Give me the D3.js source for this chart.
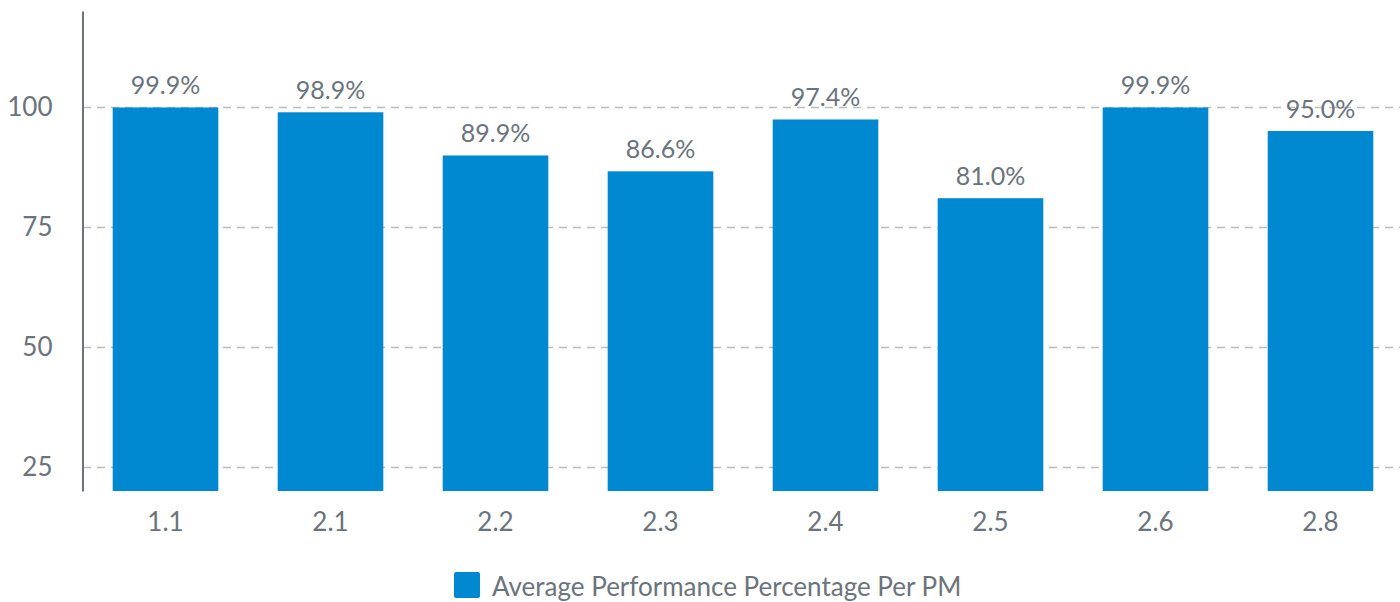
<!DOCTYPE html>
<html>
<head>
<meta charset="utf-8">
<script src="https://cdn.jsdelivr.net/npm/d3@7/dist/d3.min.js"></script>
<style>
  html, body { margin: 0; padding: 0; background: #fff; }
  svg { display: block; font-family: Lato, "Open Sans", sans-serif; }
</style>
</head>
<body>
<svg id="chart" width="1400" height="602"></svg>
<script>
// Average performance per PM
const categories = ["1.1", "2.1", "2.2", "2.3", "2.4", "2.5", "2.6", "2.8"];
const values = [99.9, 98.9, 89.9, 86.6, 97.4, 81.0, 99.9, 95.0];
const yTicks = [25, 50, 75, 100];
const seriesName = "Average Performance Percentage Per PM";

const textColor = "#6b737c";
const barColor = "#0088d1";

const svg = d3.select("#chart");

const x = d3.scaleBand()
  .domain(categories)
  .range([83, 1403])
  .paddingInner(0.36)
  .paddingOuter(0.18);

const y = d3.scaleLinear()
  .domain([20, 120])
  .range([491, 11]);

// horizontal dashed grid lines
svg.append("g")
  .selectAll("line")
  .data(yTicks)
  .join("line")
  .attr("x1", 83)
  .attr("x2", 1400)
  .attr("y1", d => Math.round(y(d)) + 0.5)
  .attr("y2", d => Math.round(y(d)) + 0.5)
  .attr("stroke", "#bcbcbc")
  .attr("stroke-width", 1.5)
  .attr("stroke-dasharray", "8,6");

// bars
svg.append("g")
  .selectAll("rect")
  .data(values)
  .join("rect")
  .attr("x", (d, i) => x(categories[i]))
  .attr("y", d => y(d))
  .attr("width", x.bandwidth())
  .attr("height", d => y(20) - y(d))
  .attr("fill", barColor);

// value labels
svg.append("g")
  .selectAll("text")
  .data(values)
  .join("text")
  .attr("x", (d, i) => x(categories[i]) + x.bandwidth() / 2)
  .attr("y", d => y(d) - 13)
  .attr("text-anchor", "middle")
  .attr("fill", textColor)
  .attr("font-size", 25)
  .text(d => d.toFixed(1) + "%");

// y axis
const yAxis = d3.axisLeft(y).tickValues(yTicks).tickSize(0).tickPadding(30);
const yg = svg.append("g").attr("transform", "translate(82.5,0)").call(yAxis);
yg.select(".domain").attr("stroke", "#6b737c").attr("stroke-width", 2);
yg.selectAll("text")
  .attr("fill", textColor)
  .attr("font-size", 26)
  .attr("font-family", "Lato, sans-serif");

// x axis labels
const xAxis = d3.axisBottom(x).tickSize(0).tickPadding(22);
const xg = svg.append("g").attr("transform", `translate(0,${y(20)})`).call(xAxis);
xg.select(".domain").remove();
xg.selectAll("text")
  .attr("fill", textColor)
  .attr("font-size", 26)
  .attr("font-family", "Lato, sans-serif");

// legend
const legend = svg.append("g").attr("transform", "translate(454,572)");
legend.append("rect")
  .attr("width", 26).attr("height", 26)
  .attr("rx", 2)
  .attr("fill", barColor);
legend.append("text")
  .attr("x", 38).attr("y", 24)
  .attr("fill", textColor)
  .attr("font-size", 26)
  .text(seriesName);
</script>
</body>
</html>
